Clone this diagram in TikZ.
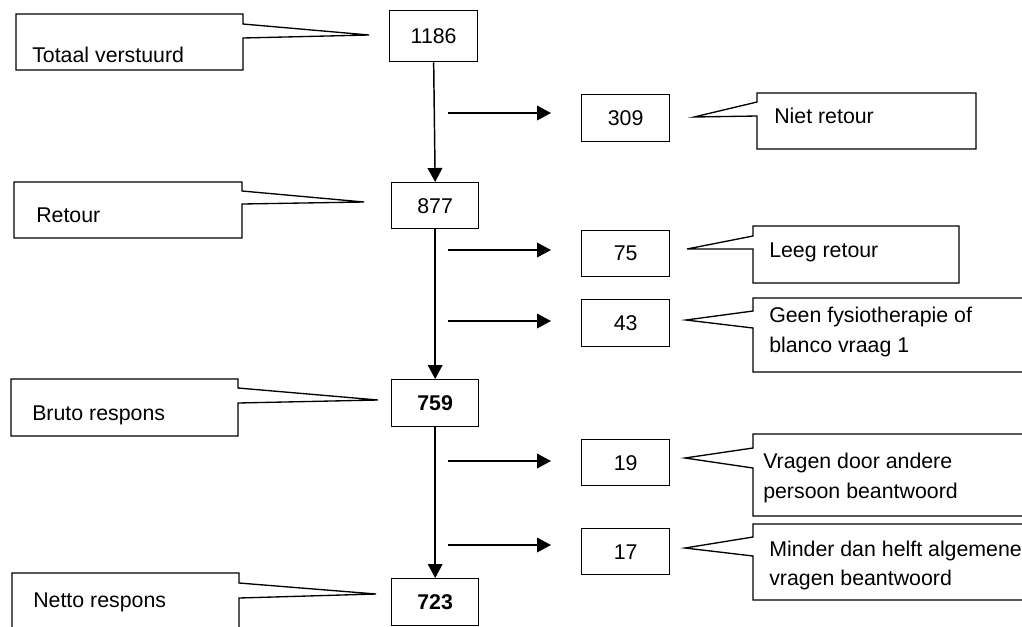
\documentclass[tikz,border=0pt]{standalone}
\usepackage{fontspec}
\setmainfont{Liberation Sans}
\usetikzlibrary{arrows.meta}
\begin{document}
\begin{tikzpicture}[x=0.75pt,y=-0.75pt,
  every node/.style={font=\fontsize{16}{22}\selectfont, inner sep=0pt},
  numbox/.style={draw, line width=1pt, anchor=north west},
  callout/.style={draw, line width=1pt, fill=white},
  lbl/.style={anchor=base west, align=left},
  flow/.style={line width=1.1pt, -{Triangle[length=10.5pt,width=11pt]}}]
\useasboundingbox (0,0) rectangle (1022,626);
\clip (0,0) rectangle (1022,626);

% number boxes
\node[numbox, minimum width=66pt, minimum height=38.25pt] (n1186) at (389,10) {1186};
\node[numbox, minimum width=65.25pt, minimum height=34.5pt] (n877) at (391,182) {877};
\node[numbox, minimum width=65.25pt, minimum height=35.25pt] (n759) at (391,379) {\textbf{759}};
\node[numbox, minimum width=65.25pt, minimum height=35.25pt] (n723) at (391,578) {\textbf{723}};
\node[numbox, minimum width=66pt, minimum height=35.25pt] (n309) at (581,94) {309};
\node[numbox, minimum width=66pt, minimum height=34.5pt] (n75) at (581,230) {75};
\node[numbox, minimum width=66pt, minimum height=35.25pt] (n43) at (581,299) {43};
\node[numbox, minimum width=66pt, minimum height=34.5pt] (n19) at (581,439) {19};
\node[numbox, minimum width=66pt, minimum height=34.5pt] (n17) at (581,528) {17};

% vertical flow
\draw[flow] (n1186.south) -- (n877.north);
\draw[flow] (n877.south) -- (n759.north);
\draw[flow] (n759.south) -- (n723.north);

% horizontal arrows
\foreach \name/\yy in {a/113, b/250, c/321, d/461, e/545} {
  \coordinate (s\name) at (448,\yy);
  \coordinate (t\name) at (551,\yy);
  \draw[flow] (s\name) -- (t\name);
}

% left callouts
\draw[callout] (16,14) -- (243,14) -- (243,24) -- (369,35) -- (243,38) -- (243,70) -- (16,70) -- cycle;
\node[lbl] (ctot) at (32,62) {Totaal verstuurd};
\draw[callout] (14,182) -- (242,182) -- (242,191) -- (364,202) -- (242,204) -- (242,238) -- (14,238) -- cycle;
\node[lbl] (cret) at (36,222) {Retour};
\draw[callout] (11,379) -- (238,379) -- (238,388) -- (378,400) -- (238,403) -- (238,436) -- (11,436) -- cycle;
\node[lbl] (cbru) at (32,420) {Bruto respons};
\draw[callout] (12,573) -- (239,573) -- (239,583) -- (376,594) -- (239,598) -- (239,640) -- (12,640) -- cycle;
\node[lbl] (cnet) at (33,607) {Netto respons};

% right callouts
\draw[callout] (757,93) -- (976,93) -- (976,149) -- (757,149) -- (757,116) -- (694,117) -- (757,102) -- cycle;
\node[lbl] (cniet) at (774,123) {Niet retour};
\draw[callout] (753,226) -- (959,226) -- (959,283) -- (753,283) -- (753,249) -- (687,249) -- (753,236) -- cycle;
\node[lbl] (cleeg) at (769,257) {Leeg retour};
\draw[callout] (753,298) -- (1040,298) -- (1040,372) -- (753,372) -- (753,328) -- (686,320) -- (753,311) -- cycle;
\node[lbl] (cgeen) at (769,322) {Geen fysiotherapie of};
\node[lbl] (cgeen2) at (769,352) {blanco vraag 1};
\draw[callout] (753,434) -- (1040,434) -- (1040,516) -- (753,516) -- (753,468) -- (685,458) -- (753,448) -- cycle;
\node[lbl] (cvra) at (763,468) {Vragen door andere};
\node[lbl] (cvra2) at (763,498) {persoon beantwoord};
\draw[callout] (753,524) -- (1040,524) -- (1040,600) -- (753,600) -- (753,556) -- (685,548) -- (753,537) -- cycle;
\node[lbl] (cmin) at (769,556) {Minder dan helft algemene};
\node[lbl] (cmin2) at (769,585) {vragen beantwoord};
\end{tikzpicture}
\end{document}
